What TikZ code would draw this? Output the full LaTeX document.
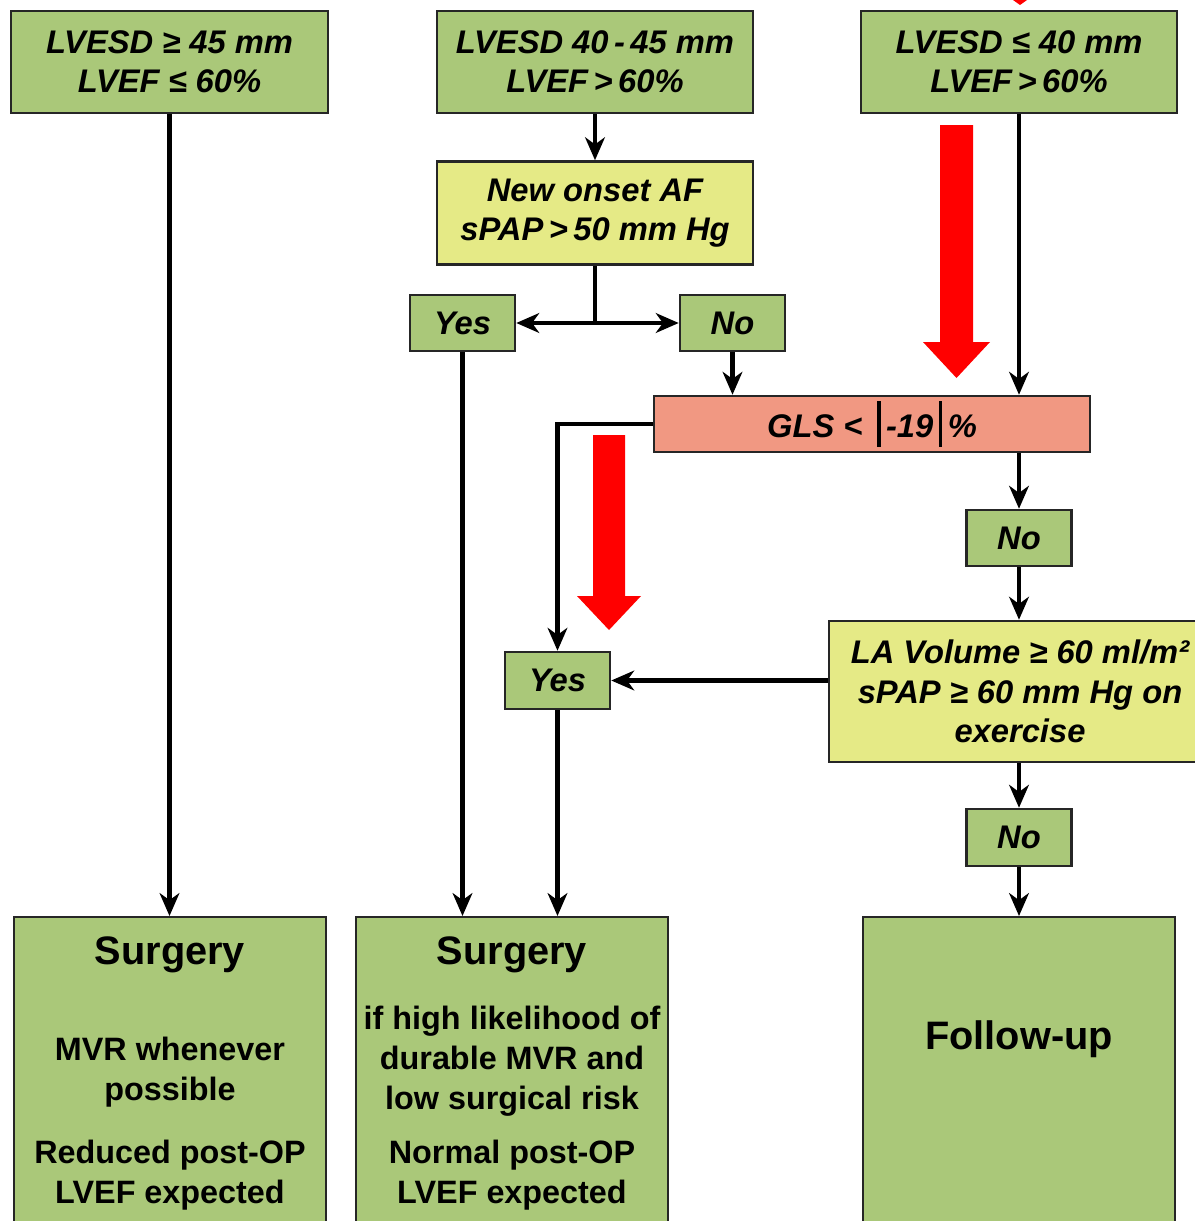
\documentclass[tikz,border=0pt]{standalone}
\usepackage{fontspec}
\setmainfont{Liberation Sans}
\usepackage{tikz}
\usetikzlibrary{arrows.meta}
\definecolor{boxgreen}{RGB}{170,200,121}
\definecolor{boxyellow}{RGB}{229,234,134}
\definecolor{boxsalmon}{RGB}{241,152,130}

\begin{document}
\begin{tikzpicture}[x=0.01cm,y=-0.01cm,>={Stealth[length=6.5pt,width=5.6pt,inset=2pt]},
  gbox/.style={draw=black!85,line width=0.7pt,fill=boxgreen,inner sep=0pt,align=center,
    font=\fontsize{9.3}{11.2}\selectfont\bfseries\itshape},
  ybox/.style={gbox,fill=boxyellow},
  rbox/.style={gbox,fill=boxsalmon},
  bigbox/.style={draw=black!85,line width=0.7pt,fill=boxgreen,inner sep=0pt},
  flow/.style={line width=1.25pt,->},
  bigtxt/.style={font=\fontsize{11.3}{13}\selectfont\bfseries},
  smalltxt/.style={align=center,font=\fontsize{9.2}{11.4}\selectfont\bfseries}]
\useasboundingbox(0,0)rectangle(1195,1221);
\clip(0,0)rectangle(1195,1221);
% top row
\node[gbox,minimum width=3.17cm,minimum height=1.02cm](lv1)at(169.5,62){LVESD ≥ 45 mm\\LVEF ≤ 60\%};
\node[gbox,minimum width=3.16cm,minimum height=1.02cm](lv2)at(595,62){LVESD 40\,-\,45 mm\\LVEF\,>\,60\%};
\node[gbox,minimum width=3.16cm,minimum height=1.02cm](lv3)at(1019,62){LVESD ≤ 40 mm\\LVEF\,>\,60\%};
\node[ybox,minimum width=3.16cm,minimum height=1.03cm](af)at(595,213){New onset AF\\sPAP\,>\,50 mm Hg};
\node[gbox,minimum width=1.05cm,minimum height=0.56cm](yes1)at(462.5,323){Yes};
\node[gbox,minimum width=1.05cm,minimum height=0.56cm](no1)at(732.5,323){No};
\node[rbox,minimum width=4.36cm,minimum height=0.56cm](gls)at(872,424)
  {GLS < \,\rule[-0.3em]{1pt}{1.4em}\,-19\,\rule[-0.3em]{1pt}{1.4em}\,\%};
\node[gbox,minimum width=1.05cm,minimum height=0.56cm](no2)at(1019,538){No};
\node[ybox,minimum width=3.82cm,minimum height=1.41cm](la)at(1020,691.5)
  {LA Volume ≥ 60 ml/m²\\sPAP ≥ 60 mm Hg on\\exercise};
\node[gbox,minimum width=1.05cm,minimum height=0.57cm](yes2)at(557.5,680.5){Yes};
\node[gbox,minimum width=1.05cm,minimum height=0.57cm](no3)at(1019,837.5){No};
% bottom row
\node[bigbox,minimum width=3.12cm,minimum height=3.4cm,anchor=north](s1)at(170,916){};
\node[bigbox,minimum width=3.12cm,minimum height=3.4cm,anchor=north](s2)at(512,916){};
\node[bigbox,minimum width=3.12cm,minimum height=3.4cm,anchor=north](fu)at(1019,916){};
\node[bigtxt](s1t)at(170,955){Surgery};
\node[smalltxt](s1a)at(170,1072){MVR whenever\\possible};
\node[smalltxt](s1b)at(170,1175){Reduced post-OP\\LVEF expected};
\node[bigtxt](s2t)at(512,955){Surgery};
\node[smalltxt](s2a)at(512,1061){if high likelihood of\\durable MVR and\\low surgical risk};
\node[smalltxt](s2b)at(512,1175){Normal post-OP\\LVEF expected};
\node[bigtxt](fut)at(1019,1039){Follow-up};
% connectors
\draw[flow](lv1)--(lv1|-s1.north);
\draw[flow](lv2)--(af);
\coordinate(split)at(af.south|-yes1.east);
\draw[line width=1.25pt](af.south)--(split);
\draw[flow](split)--(yes1.east);
\draw[flow](split)--(no1.west);
\draw[flow](yes1)--(yes1|-s2.north);
\draw[flow](no1)--(no1|-gls.north);
\draw[flow](lv3)--(lv3|-gls.north);
\draw[flow](gls.west)-|(yes2.north);
\draw[flow](no2|-gls.south)--(no2);
\draw[flow](no2)--(no2|-la.north);
\draw[flow](yes2.east-|la.west)--(yes2.east);
\draw[flow](yes2)--(yes2|-s2.north);
\draw[flow](no3|-la.south)--(no3);
\draw[flow](no3)--(no3|-fu.north);
% red arrows
\fill[red](940,125)--(973,125)--(973,342)--(990,342)--(956.5,378)--(923,342)--(940,342)--cycle;
\fill[red](593,435)--(625,435)--(625,596)--(641,596)--(609,630)--(577,596)--(593,596)--cycle;
\fill[red](1013,0)--(1027,0)--(1020,5)--cycle;
\end{tikzpicture}
\end{document}
